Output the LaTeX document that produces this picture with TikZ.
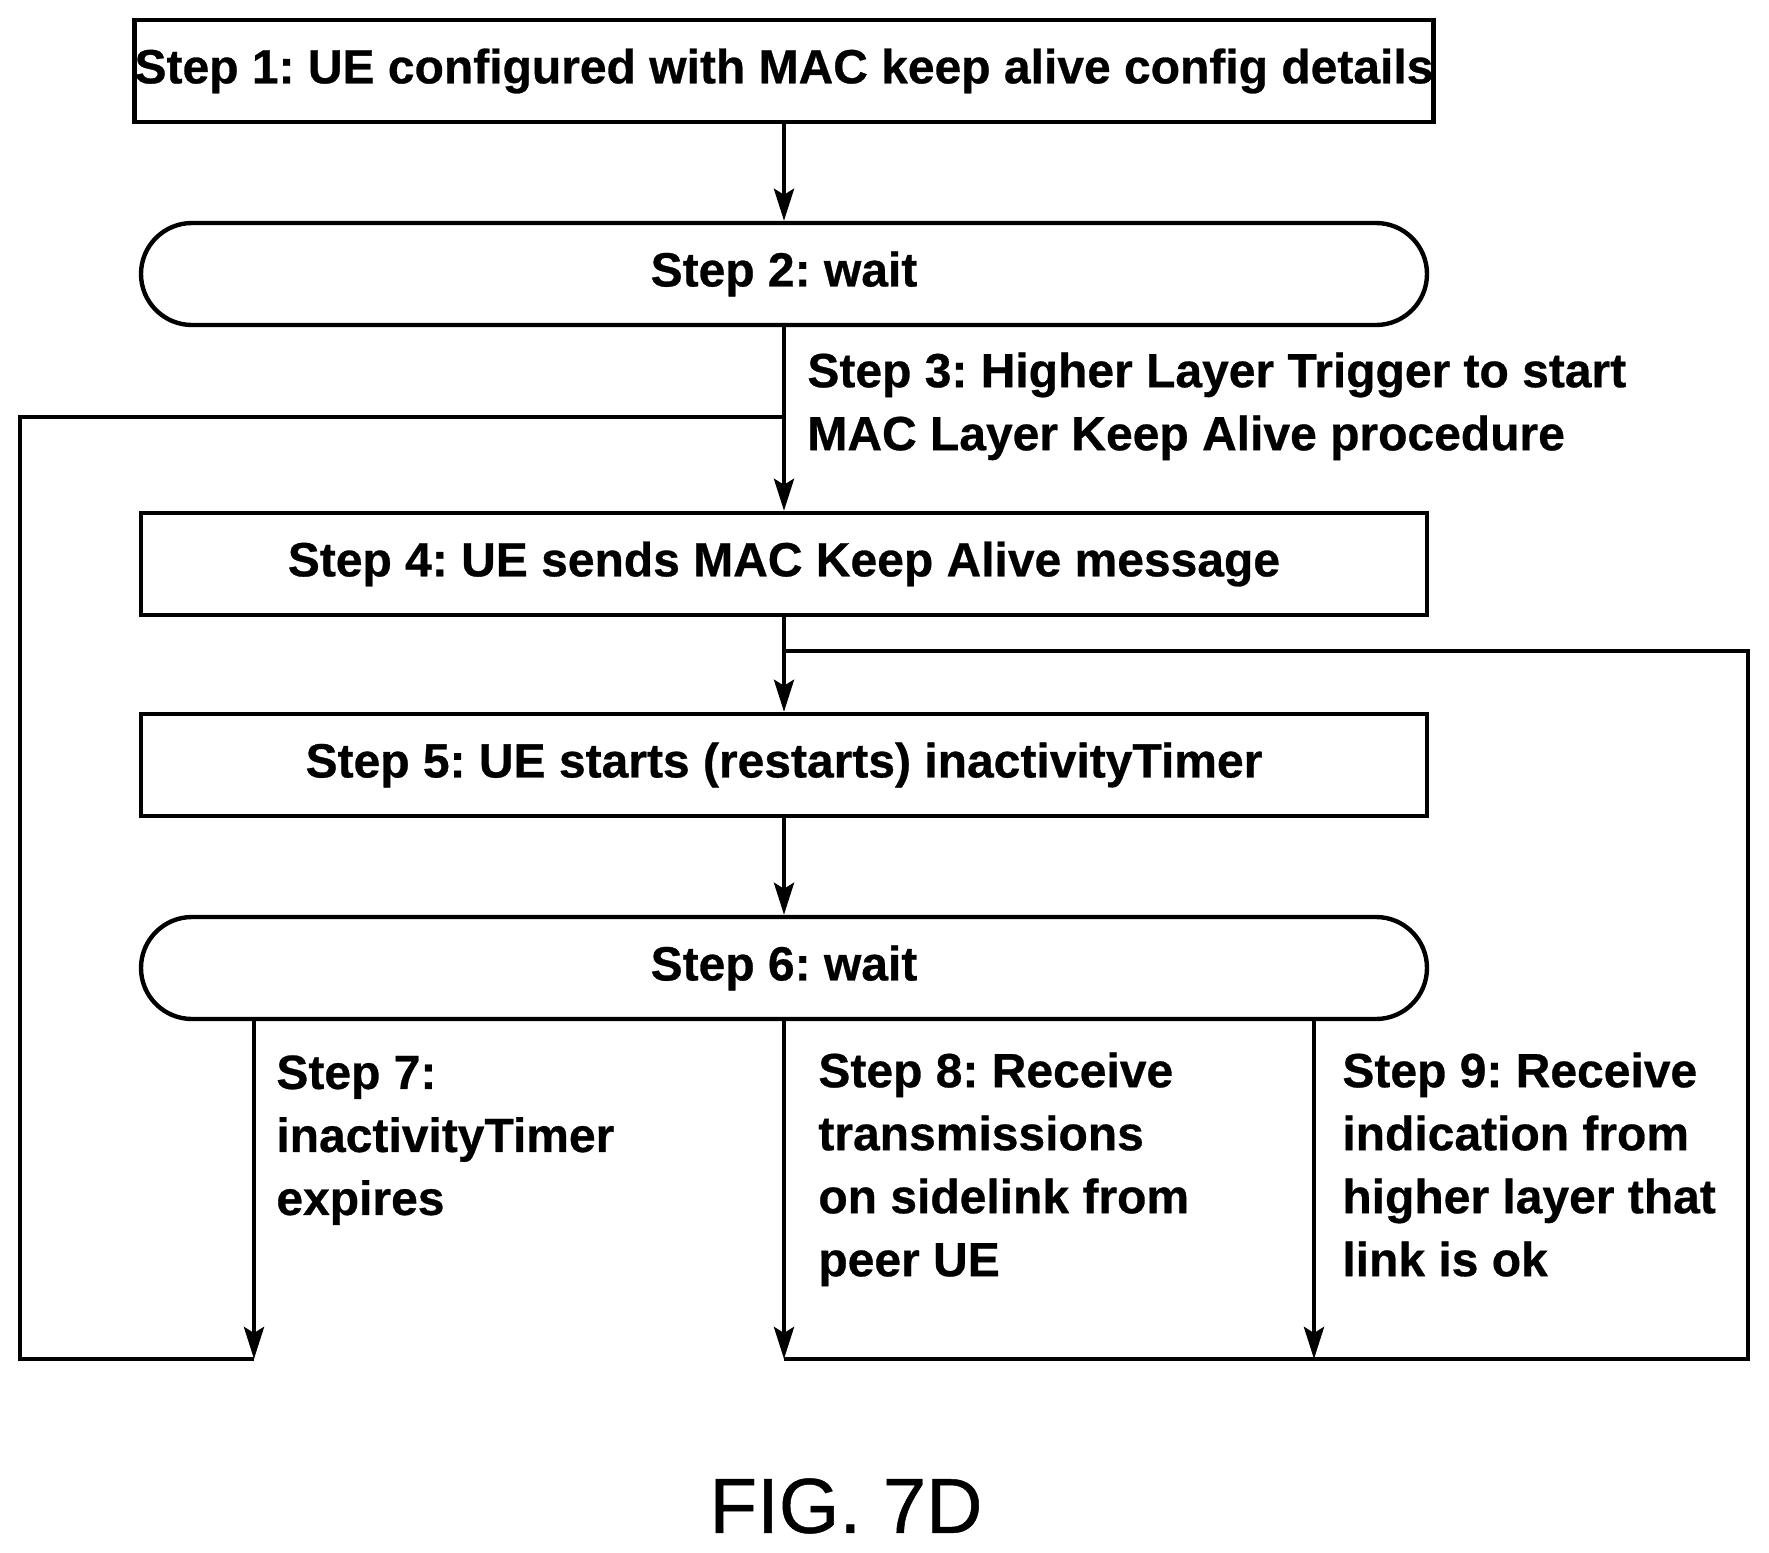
\documentclass[tikz,border=0pt]{standalone}
\usepackage{fontspec}
\setmainfont{Liberation Sans}[FakeBold=0.6]
\usetikzlibrary{arrows.meta}
\begin{document}
\frenchspacing
\begin{tikzpicture}[x=0.5pt,y=-0.5pt,
  ln/.style={line width=2.2pt},
  arr/.style={ln,-{Stealth[length=16pt,width=10pt,inset=3pt]}},
  txt/.style={font=\fontsize{24pt}{31.5pt}\selectfont\bfseries,inner sep=0pt},
  lbl/.style={txt,anchor=north west,align=left}]
\useasboundingbox (0,0) rectangle (1769,1553);
\node[ln,draw,rectangle,minimum width=643pt,minimum height=51pt,txt] (s1) at (784,71) {Step 1: UE configured with MAC keep alive config details};
\node[ln,draw,rectangle,rounded corners=25.5pt,minimum width=643pt,minimum height=51pt,txt] (s2) at (784,274) {Step 2: wait};
\node[ln,draw,rectangle,minimum width=643pt,minimum height=51pt,txt] (s4) at (784,564) {Step 4: UE sends MAC Keep Alive message};
\node[ln,draw,rectangle,minimum width=643pt,minimum height=51pt,txt] (s5) at (784,765) {Step 5: UE starts (restarts) inactivityTimer};
\node[ln,draw,rectangle,rounded corners=25.5pt,minimum width=643pt,minimum height=51pt,txt] (s6) at (784,968) {Step 6: wait};
\node[lbl] (t3) at (807,352) {Step 3: Higher Layer Trigger to start\\MAC Layer Keep Alive procedure};
\node[lbl] (t7) at (276,1055) {Step 7:\\inactivityTimer\\expires};
\node[lbl] (t8) at (818,1052) {Step 8: Receive\\transmissions\\on sidelink from\\peer UE};
\node[lbl] (t9) at (1342,1052) {Step 9: Receive\\indication from\\higher layer that\\link is ok};
\node[font=\fontsize{39pt}{48pt}\selectfont,inner sep=0pt] (fig) at (846,1506) {FIG. 7D};
\coordinate (j3) at (784,417);
\coordinate (j4) at (784,651);
\coordinate (e7) at (254,1359);
\coordinate (e8) at (784,1359);
\coordinate (e9) at (1314,1359);
\draw[arr] (s1) -- (s2);
\draw[arr] (s2) -- (s4);
\draw[arr] (s4) -- (s5);
\draw[arr] (s5) -- (s6);
\draw[arr] (s6.south -| e7) -- (e7);
\draw[arr] (s6.south) -- (e8);
\draw[arr] (s6.south -| e9) -- (e9);
\draw[ln] (j3) -- (20,417) -- (20,1359) -- (e7);
\draw[ln] (j4) -- (1748,651) -- (1748,1359) -- (e8);
\end{tikzpicture}
\end{document}
